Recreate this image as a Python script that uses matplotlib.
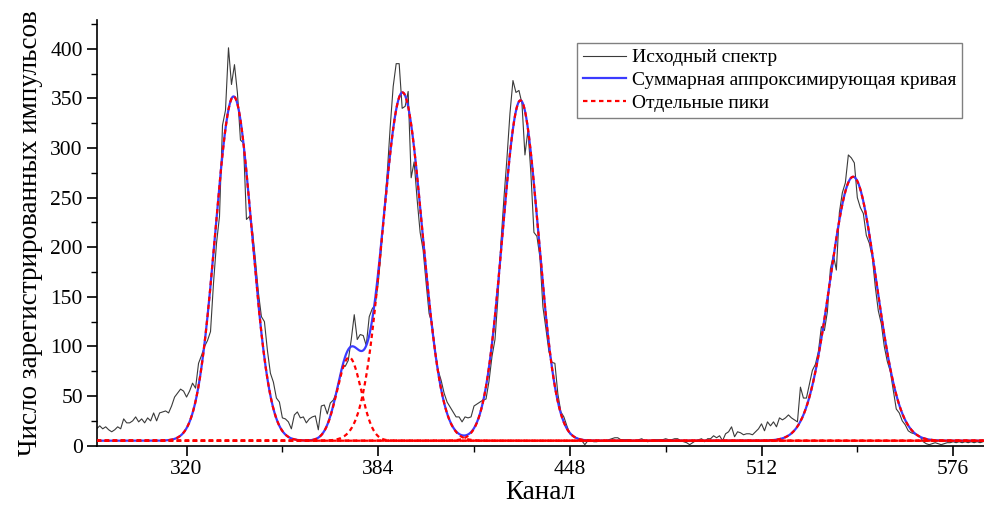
import numpy as np
import matplotlib
matplotlib.use('Agg')
import matplotlib.pyplot as plt
from matplotlib.ticker import MultipleLocator

plt.rcParams['font.family'] = ['Liberation Serif', 'DejaVu Serif']

# Raw spectrum, one count value per channel, starting at channel 290
first_channel = 290
raw_counts = [
    17, 20, 17, 19, 16, 14, 16, 19, 17, 27,
    23, 23, 25, 29, 24, 27, 23, 28, 25, 33,
    25, 33, 34, 35, 33, 40, 49, 53, 57, 55,
    49, 55, 63, 58, 83, 91, 100, 106, 115, 164,
    204, 231, 323, 338, 401, 364, 384, 355, 308, 305,
    228, 231, 217, 187, 154, 130, 125, 96, 73, 64,
    48, 44, 28, 27, 24, 17, 31, 34, 28, 29,
    23, 27, 29, 30, 16, 40, 41, 32, 43, 46,
    53, 66, 80, 80, 86, 107, 132, 107, 112, 111,
    101, 130, 138, 142, 164, 197, 238, 274, 321, 362,
    385, 385, 340, 342, 357, 270, 286, 248, 215, 197,
    164, 133, 123, 96, 76, 66, 53, 44, 39, 34,
    29, 29, 24, 29, 28, 29, 40, 42, 44, 46,
    47, 65, 90, 107, 150, 205, 250, 290, 335, 368,
    356, 358, 345, 293, 318, 274, 215, 211, 190, 140,
    118, 95, 84, 83, 52, 34, 29, 20, 12, 10,
    8, 7, 5, 1, 5, 5, 4, 4, 5, 5,
    5, 6, 7, 8, 8, 6, 6, 6, 6, 5,
    5, 6, 7, 5, 4, 5, 6, 6, 6, 6,
    7, 6, 6, 7, 7, 5, 4, 3, 1, 3,
    5, 6, 7, 4, 7, 7, 10, 8, 10, 5,
    12, 14, 19, 9, 14, 13, 11, 12, 12, 11,
    14, 17, 22, 15, 24, 20, 24, 19, 28, 26,
    28, 31, 28, 26, 24, 59, 48, 48, 62, 76,
    82, 95, 120, 116, 135, 178, 192, 177, 235, 255,
    265, 293, 290, 285, 250, 240, 234, 212, 204, 190,
    160, 136, 123, 100, 85, 75, 56, 37, 33, 25,
    21, 15, 13, 12, 11, 9, 4, 2, 1, 2,
    3, 2, 1, 2, 3, 3, 4, 3, 4, 3,
    4, 3, 4, 3, 4, 3, 4,
]

# Fitted gaussian peaks
baseline = 5
peak_centers = [335.7, 374.3, 392.1, 431.5, 542.6]
peak_amplitudes = [347, 84, 351, 343, 266]
peak_sigmas = [6.1, 4.0, 6.6, 6.0, 7.7]

x_ticks = [320, 384, 448, 512, 576]

channels = first_channel + np.arange(len(raw_counts))
xf = np.linspace(290, 586.3, 3000)
peaks = [baseline + a * np.exp(-(xf - c) ** 2 / (2 * s ** 2))
         for c, a, s in zip(peak_centers, peak_amplitudes, peak_sigmas)]
total = baseline + sum(p - baseline for p in peaks)

fig = plt.figure(figsize=(9.84, 5.09), dpi=100)
ax = fig.add_axes([0.0983, 0.1244, 0.9017, 0.8363])

ax.plot(channels, raw_counts, color='#3a3a3a', lw=0.8, label='Исходный спектр', zorder=2)
ax.plot(xf, total, color='#3b3bff', lw=1.6, label='Суммарная аппроксимирующая кривая', zorder=3)
for i, p in enumerate(peaks):
    ax.plot(xf, p, color='#ff0000', lw=1.6, ls=(0, (2.0, 1.6)), zorder=4,
            label='Отдельные пики' if i == 0 else None)

ax.set_xlim(290, 586.3)
ax.set_ylim(0, 429)
ax.set_xticks(x_ticks)
ax.xaxis.set_minor_locator(MultipleLocator(32))
ax.yaxis.set_major_locator(MultipleLocator(50))
ax.yaxis.set_minor_locator(MultipleLocator(25))

for s in ['top', 'right']:
    ax.spines[s].set_visible(False)
for s in ['left', 'bottom']:
    ax.spines[s].set_linewidth(1.2)
ax.tick_params(which='major', direction='out', length=7, width=1.2, labelsize=15.5, pad=3)
ax.tick_params(which='minor', direction='out', length=4, width=1.0)

ax.set_xlabel('Канал', fontsize=19.5, labelpad=1)
ax.set_ylabel('Число зарегистрированных импульсов', fontsize=19.5, labelpad=5)

leg = ax.legend(loc='upper right', bbox_to_anchor=(0.9752, 0.9462), fontsize=14,
                frameon=True, fancybox=False, edgecolor='#808080', framealpha=1,
                handlelength=2.2, handletextpad=0.3, borderpad=0.3, labelspacing=0.27,
                borderaxespad=0)
leg.get_frame().set_linewidth(1.0)

fig.savefig('out.png', dpi=100)
